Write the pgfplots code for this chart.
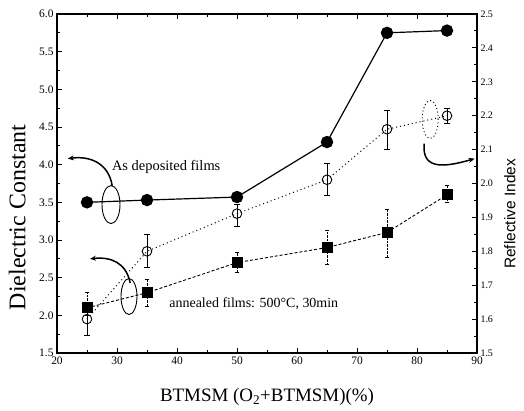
\documentclass[border=0pt]{standalone}
\usepackage{fontspec}
\setmainfont{Liberation Serif}
\setsansfont{Liberation Sans}
\usepackage{pgfplots}
\pgfplotsset{compat=1.18}
\usetikzlibrary{arrows.meta}

\begin{document}
\begin{tikzpicture}
\begin{axis}[
  name=main,
  scale only axis, width=420bp, height=339bp,
  xmin=20, xmax=90, ymin=1.5, ymax=6.0,
  xtick={20,30,40,50,60,70,80,90}, minor x tick num=1,
  ytick={1.5,2.0,2.5,3.0,3.5,4.0,4.5,5.0,5.5,6.0}, minor y tick num=1,
  xtick pos=both, ytick pos=left,
  tick align=inside,
  major tick length=5bp, minor tick length=3bp,
  axis line style={line width=1.1pt},
  every tick/.style={line width=0.9pt, black},
  /pgf/number format/assume math mode=true,
  yticklabel style={/pgf/number format/fixed, /pgf/number format/fixed zerofill, /pgf/number format/precision=1},
  tick label style={font=\fontsize{11.5}{12}\selectfont},
  xlabel={BTMSM (O\textsubscript{2}+BTMSM)(\%)},
  ylabel={Dielectric Constant},
  xlabel style={font=\fontsize{19}{21}\selectfont, at={(axis description cs:0.5,-0.13)}, anchor=center},
  ylabel style={font=\fontsize{24}{26}\selectfont, at={(axis description cs:-0.095,0.4)}, anchor=center},
  clip=false,
]
% As deposited (filled circles)
\addplot[black, line width=1.2pt, mark=*, mark size=5.6bp, mark options={solid, fill=black}]
 coordinates {(25,3.50) (35,3.53) (50,3.57) (65,4.30) (75,5.75) (85,5.78)};
% open circles with error bars
\addplot[black, line width=1pt, dash pattern=on 1bp off 3bp, mark=o, mark size=4.8bp,
  mark options={solid, fill=white, line width=0.9pt},
  error bars/.cd, y dir=both, y explicit,
  error bar style={solid, line width=0.9pt},
  error mark options={rotate=90, mark size=3bp, line width=0.9pt, solid}]
 coordinates {
 (25,1.95) += (0,0.22) -= (0,0.22)
 (35,2.85) += (0,0.22) -= (0,0.22)
 (50,3.35) += (0,0.12) -= (0,0.17)
 (65,3.80) += (0,0.21) -= (0,0.21)
 (75,4.47) += (0,0.25) -= (0,0.27)
 (85,4.65) += (0,0.10) -= (0,0.10)
 };
% squares with error bars
\addplot[black, line width=0.9pt, dash pattern=on 3bp off 2bp, mark=square*, mark size=5bp,
  mark options={solid, fill=black},
  error bars/.cd, y dir=both, y explicit,
  error bar style={densely dotted, line width=0.8pt},
  error mark options={rotate=90, mark size=2bp, line width=0.8pt, solid}]
 coordinates {
 (25,2.10) += (0,0.20) -= (0,0.10)
 (35,2.30) += (0,0.18) -= (0,0.18)
 (50,2.70) += (0,0.13) -= (0,0.13)
 (65,2.90) += (0,0.23) -= (0,0.23)
 (75,3.10) += (0,0.30) -= (0,0.33)
 (85,3.60) += (0,0.12) -= (0,0.10)
 };
% annotations
\node[font=\fontsize{14.5}{16}\selectfont] at (axis cs:38.2,3.97) {As deposited films};
\node[font=\fontsize{14}{16}\selectfont] at (axis cs:52.8,2.16) {annealed films: 500°C, 30min};
\draw[line width=0.9pt] (axis cs:29,3.47) ellipse [x radius=9bp, y radius=19bp];
\draw[line width=1.5pt, -{Stealth[length=6bp,width=5bp]}] (axis cs:29.2,3.72) .. controls (axis cs:28.6,4.02) and (axis cs:25.5,4.12) .. (axis cs:21.8,4.08);
\draw[line width=0.9pt] (axis cs:32,2.25) ellipse [x radius=8bp, y radius=18bp];
\draw[line width=1.5pt, -{Stealth[length=6bp,width=5bp]}] (axis cs:32.2,2.43) .. controls (axis cs:31.5,2.7) and (axis cs:29,2.78) .. (axis cs:25.5,2.75);
\draw[line width=0.9pt, dash pattern=on 1bp off 2.5bp] (axis cs:82.2,4.6) ellipse [x radius=8bp, y radius=19bp];
\draw[line width=1.5pt, -{Stealth[length=6bp,width=5bp]}] (axis cs:81.2,4.28) .. controls (axis cs:80.8,3.95) and (axis cs:84,3.95) .. (axis cs:89.6,4.08);
\end{axis}
\begin{axis}[
  scale only axis, width=420bp, height=339bp,
  xmin=20, xmax=90, ymin=1.5, ymax=2.5,
  hide x axis,
  axis y line*=right,
  ytick={1.5,1.6,1.7,1.8,1.9,2.0,2.1,2.2,2.3,2.4,2.5}, minor y tick num=1,
  tick align=inside,
  major tick length=5bp, minor tick length=3bp,
  axis line style={line width=1.1pt},
  every tick/.style={line width=0.9pt, black},
  /pgf/number format/assume math mode=true,
  yticklabel style={/pgf/number format/fixed, /pgf/number format/fixed zerofill, /pgf/number format/precision=1, font=\fontsize{10}{11}\selectfont},
  ylabel={Reflective Index},
  ylabel style={font=\sffamily\fontsize{15.5}{17}\selectfont, at={(axis description cs:1.078,0.41)}, anchor=center, rotate=0, inner sep=0pt},
]
\addplot[draw=none, forget plot] coordinates {(20,1.5)};
\end{axis}
\pgfresetboundingbox
\path[use as bounding box] ([shift={(-57bp,-58bp)}]main.south west) rectangle ([shift={(47bp,14bp)}]main.north east);
\end{tikzpicture}
\end{document}
